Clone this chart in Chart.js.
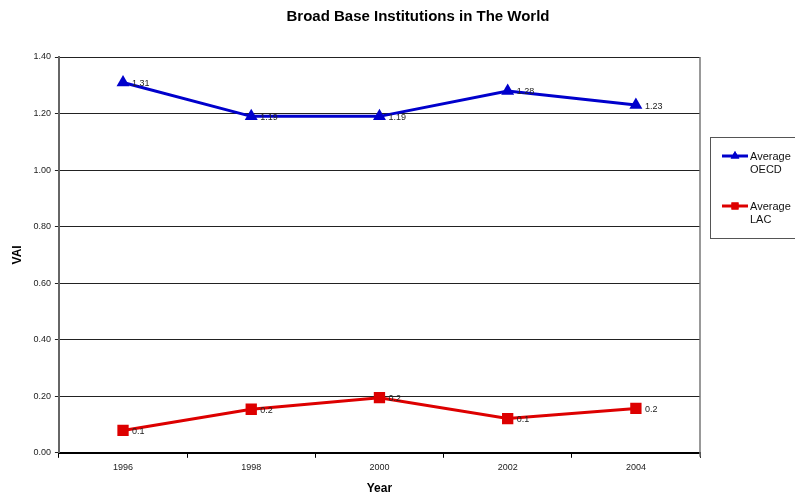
<!DOCTYPE html>
<html><head><meta charset="utf-8">
<script src="https://cdn.jsdelivr.net/npm/chart.js@4.4.0/dist/chart.umd.min.js"></script>
<style>html,body{margin:0;padding:0;background:#fff}#wrap{width:795px;height:498px}</style>
</head><body><div id="wrap"><canvas id="c"></canvas></div>
<script>
const years = ['1996','1998','2000','2002','2004'];
const oecd = [1.31, 1.19, 1.19, 1.28, 1.23];
const lac = [0.079, 0.154, 0.195, 0.121, 0.157];
const seriesNames = [['Average','OECD'],['Average','LAC']];
const labelDecimals = [2, 1];
const yTicksMax = 1.4, yStep = 0.2;
const chartTitle = 'Broad Base Institutions in The World';

const FONT = 'Liberation Sans, Arial, sans-serif';

const labelPlugin = {
  id:'pointLabels',
  afterDatasetsDraw(chart){
    const ctx = chart.ctx;
    ctx.save();
    ctx.font = '9px ' + FONT;
    ctx.fillStyle = '#222';
    ctx.textBaseline = 'middle';
    ctx.textAlign = 'left';
    chart.data.datasets.forEach((ds, i) => {
      const meta = chart.getDatasetMeta(i);
      meta.data.forEach((pt, j) => {
        ctx.fillText(ds.data[j].toFixed(labelDecimals[i]), pt.x + 9, pt.y + 1);
      });
    });
    ctx.restore();
  }
};

const framePlugin = {
  id:'frame',
  afterDraw(chart){
    const ctx = chart.ctx, a = chart.chartArea;
    ctx.save();
    ctx.fillStyle = '#000';
    ctx.font = 'bold 15px ' + FONT;
    ctx.textAlign = 'center'; ctx.textBaseline = 'middle';
    ctx.fillText(chartTitle, 418, 17);
    ctx.strokeStyle = '#777';
    ctx.lineWidth = 1.5;
    ctx.beginPath(); ctx.moveTo(a.right, a.top); ctx.lineTo(a.right, a.bottom + 4); ctx.stroke();
    const lx = 710.5, ly = 137.5, lw = 100, lh = 101;
    ctx.strokeStyle = '#555'; ctx.lineWidth = 1;
    ctx.strokeRect(lx, ly, lw, lh);
    chart.data.datasets.forEach((ds, i) => {
      const y = 156 + i * 50;
      ctx.strokeStyle = ds.borderColor; ctx.lineWidth = 3;
      ctx.beginPath(); ctx.moveTo(722, y); ctx.lineTo(748, y); ctx.stroke();
      ctx.fillStyle = ds.borderColor;
      Chart.helpers.drawPoint(ctx, {pointStyle: ds.pointStyle, radius: 5, rotation: 0, borderWidth: 0}, 735, y);
      ctx.fill();
      ctx.fillStyle = '#111';
      ctx.font = '11px ' + FONT;
      ctx.textBaseline = 'middle'; ctx.textAlign = 'left';
      ctx.fillText(seriesNames[i][0], 750, y + 1);
      ctx.fillText(seriesNames[i][1], 750, y + 14);
    });
    ctx.restore();
  }
};

new Chart(document.getElementById('c'), {
  type:'line',
  data:{
    labels: years,
    datasets:[
      {label:'Average OECD', data: oecd, borderColor:'#0000cc', backgroundColor:'#0000cc',
       borderWidth:3, pointStyle:'triangle', pointRadius:7.5, pointBorderWidth:0, tension:0},
      {label:'Average LAC', data: lac, borderColor:'#dd0000', backgroundColor:'#dd0000',
       borderWidth:3, pointStyle:'rect', pointRadius:8, pointBorderWidth:0, tension:0}
    ]
  },
  options:{
    responsive:true, maintainAspectRatio:false, animation:false,
    layout:{padding:{left:10, right:95, top:57, bottom:2}},
    plugins:{
      legend:{display:false},
      tooltip:{enabled:false},
      title:{display:false}
    },
    scales:{
      x:{
        type:'category', offset:true,
        grid:{offset:true, drawOnChartArea:false, drawTicks:true, tickLength:5, color:'#000'},
        border:{color:'#000', width:2},
        ticks:{font:{family:FONT, size:9}, color:'#222', padding:4},
        title:{display:true, text:'Year', font:{family:FONT, size:12, weight:'bold'}, color:'#000', padding:{top:5, bottom:0}}
      },
      y:{
        min:0, max:yTicksMax,
        grid:{color:'#222', lineWidth:1, drawTicks:true, tickLength:4},
        border:{color:'#666', width:2},
        ticks:{stepSize:yStep, font:{family:FONT, size:9}, color:'#222', padding:4,
          callback:v => v.toFixed(2)},
        title:{display:true, text:'VAI', font:{family:FONT, size:12, weight:'bold'}, color:'#000', padding:{top:0, bottom:5}}
      }
    }
  },
  plugins:[labelPlugin, framePlugin]
});
</script></body></html>
